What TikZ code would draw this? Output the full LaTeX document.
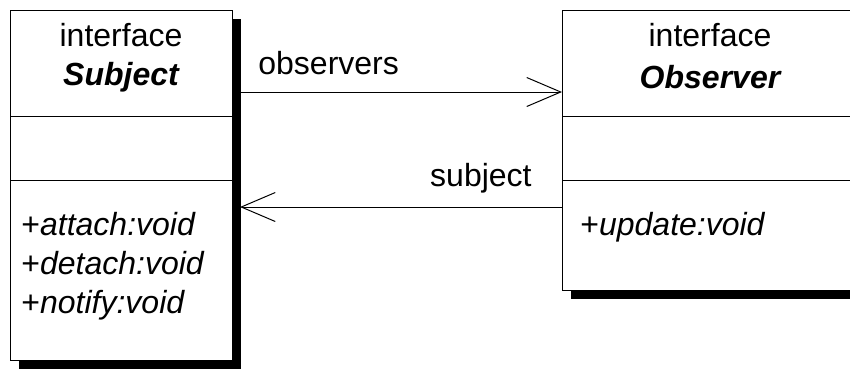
\documentclass[tikz,border=0pt]{standalone}
\usepackage{fontspec}
\setmainfont{Liberation Sans}
\usetikzlibrary{arrows.meta}
\usetikzlibrary{shadows}

\tikzset{
  classbox/.style={draw, fill=white, line width=0.5pt, inner sep=0pt, anchor=north west,
    drop shadow={shadow xshift=4pt, shadow yshift=-4pt, fill=black, opacity=1}},
  classtext/.style={font=\fontsize{16}{19}\selectfont, inner sep=0pt},
  opentip/.style={-{Straight Barb[length=17pt,width=14.5pt]}, line width=0.5pt}
}

\begin{document}
\begin{tikzpicture}[x=0.5pt,y=-0.5pt]
        \clip (0,0) rectangle (850,372);
        \fill[white] (0,0) rectangle (850,372);
        % the two interfaces
        \node[classbox, minimum width=111pt, minimum height=175pt] (subj) at (10,10) {};
        \node[classbox, minimum width=148pt, minimum height=140pt] (obs) at (562,10) {};
        \draw[line width=0.5pt] (subj.west |- 0,116) -- (subj.east |- 0,116);
        \draw[line width=0.5pt] (subj.west |- 0,180) -- (subj.east |- 0,180);
        \draw[line width=0.5pt] (obs.west |- 0,116) -- (obs.east |- 0,116);
        \draw[line width=0.5pt] (obs.west |- 0,180) -- (obs.east |- 0,180);
        \node[classtext] (subjkind) at (121,35){interface};
        \node[classtext, font=\fontsize{16}{19}\selectfont\bfseries\itshape] (subjname) at (121,77){Subject};
        \node[classtext, anchor=base west] (attach) at (21,235){+\textit{attach:void}};
        \node[classtext, anchor=base west] (detach) at (21,274){+\textit{detach:void}};
        \node[classtext, anchor=base west] (notify) at (21,313){+\textit{notify:void}};
        \node[classtext] (obskind) at (710,35){interface};
        \node[classtext, font=\fontsize{16}{19}\selectfont\bfseries\itshape] (obsname) at (710,77){Observer};
        \node[classtext, anchor=base west] (update) at (580,235){+\textit{update:void}};
        % associations
        \coordinate (obsout) at (240,92);
        \coordinate (subjin) at (240,207);
        \draw[opentip] (obsout) -- (obs.west |- obsout);
        \draw[opentip] (obs.west |- subjin) -- (subjin);
        \node[classtext, anchor=west] (obsrole) at (258,63){observers};
        \node[classtext, anchor=east] (subjrole) at (532,178){subject};
    \end{tikzpicture}
\end{document}
